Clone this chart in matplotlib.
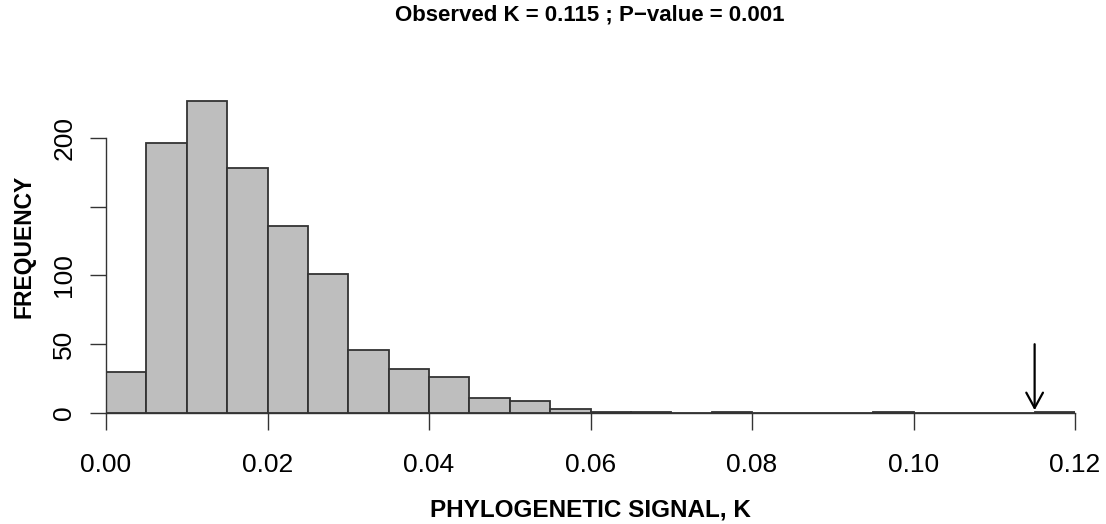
import numpy as np
import matplotlib
matplotlib.use("Agg")
import matplotlib.pyplot as plt

# histogram of simulated K values (bin width 0.005)
bin_edges = np.round(np.arange(0, 0.1201, 0.005), 3)
counts = [30, 196, 227, 178, 136, 101, 46, 32, 26, 11, 9, 3,
          1, 1, 0, 1, 0, 0, 0, 1, 0, 0, 0, 1]
observed_k = 0.115
p_value = 0.001
arrow_top, arrow_bottom = 50, 2

yticks = [0, 50, 100, 150, 200]
ytick_labels = ["0", "50", "100", "", "200"]
xticks = [0.00, 0.02, 0.04, 0.06, 0.08, 0.10, 0.12]

plt.rcParams["font.family"] = ["Liberation Sans", "DejaVu Sans"]

fig = plt.figure(figsize=(11.06, 5.24), dpi=100)
ax = fig.add_axes([106 / 1106, 111 / 524, 969 / 1106, 333 / 524])

ax.bar(bin_edges[:-1], counts, width=0.005, align="edge",
       color="#bebebe", edgecolor="#333333", linewidth=1.3)

ax.set_xlim(0, 0.12)
ax.set_ylim(0, 242)
for s in ["top", "right"]:
    ax.spines[s].set_visible(False)
ax.spines["left"].set_bounds(0, 200)
ax.spines["bottom"].set_bounds(0, 0.12)
for s in ["left", "bottom"]:
    ax.spines[s].set_color("#333333")
    ax.spines[s].set_linewidth(1.0)

ax.set_xticks(xticks)
ax.set_xticklabels([f"{v:.2f}" for v in xticks])
ax.set_yticks(yticks)
ax.set_yticklabels(ytick_labels, rotation=90, va="center")
ax.tick_params(axis="x", direction="out", length=12, width=1, pad=17,
               labelsize=19, color="#333333")
ax.tick_params(axis="y", direction="out", length=11.5, width=1, pad=10,
               labelsize=19, color="#333333")

ax.set_xlabel("PHYLOGENETIC SIGNAL, K", fontsize=17.5, fontweight="bold", labelpad=15)
ax.set_ylabel("FREQUENCY", fontsize=16.5, fontweight="bold", labelpad=12)

fig.text(0.533, 0.992, f"Observed K = {observed_k} ; P\u2212value = {p_value}",
         ha="center", va="top", fontsize=16, fontweight="bold")

ax.annotate("", xy=(observed_k, arrow_bottom), xytext=(observed_k, arrow_top),
            arrowprops=dict(arrowstyle="->,head_length=0.55,head_width=0.3",
                            color="black", lw=1.6, mutation_scale=20,
                            shrinkA=0, shrinkB=0))

fig.savefig("out.png", dpi=100)
